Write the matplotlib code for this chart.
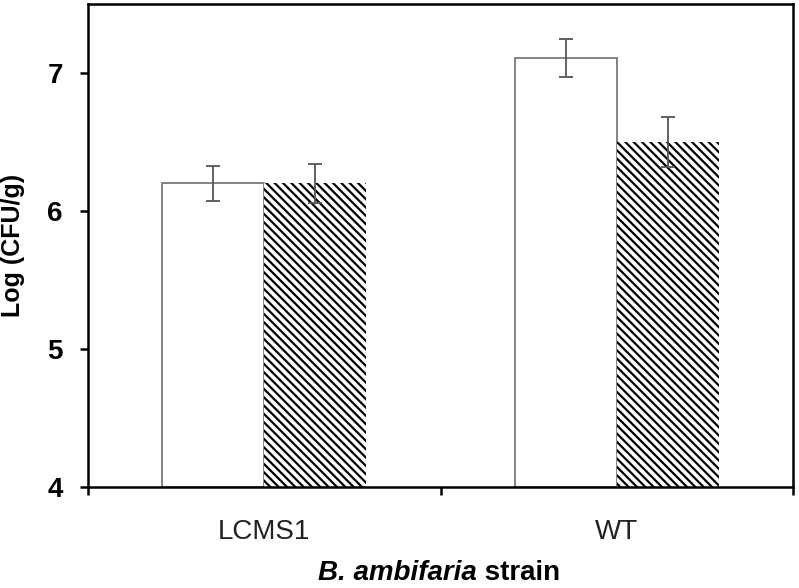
import matplotlib
matplotlib.use('Agg')
import matplotlib.pyplot as plt
import numpy as np

# data
strains = ['LCMS1', 'WT']
plain_vals = [6.20, 7.11]
plain_err = [0.125, 0.14]
hatch_vals = [6.20, 6.50]
hatch_err = [0.14, 0.18]
y_ticks = [4, 5, 6, 7]

plt.rcParams['font.family'] = ['Liberation Sans', 'DejaVu Sans']
plt.rcParams['hatch.linewidth'] = 1.6

fig = plt.figure(figsize=(7.99, 5.88), dpi=100)
ax = fig.add_axes([88 / 799, 1 - 487 / 588, 705 / 799, 483 / 588])

x = np.arange(len(strains))
w = 0.29
bottom = 4

ax.bar(x - w / 2, np.array(plain_vals) - bottom, w, bottom=bottom,
       color='white', edgecolor='#7a7a7a', linewidth=1.3, zorder=2)
ax.bar(x + w / 2, np.array(hatch_vals) - bottom, w, bottom=bottom,
       color='white', edgecolor='black', linewidth=0, hatch='\\\\\\\\', zorder=2)

ax.errorbar(x - w / 2, plain_vals, yerr=plain_err, fmt='none',
            ecolor='#555555', elinewidth=1.3, capsize=5, capthick=1.3, zorder=3)
ax.errorbar(x + w / 2, hatch_vals, yerr=hatch_err, fmt='none',
            ecolor='#555555', elinewidth=1.3, capsize=5, capthick=1.3, zorder=3)

ax.set_xlim(-0.5, 1.5)
ax.set_ylim(4, 7.5)

ax.set_yticks(y_ticks)
ax.set_yticklabels([str(t) for t in y_ticks], fontsize=20, fontweight='bold')
ax.tick_params(axis='y', direction='out', length=6, width=1.8, pad=12)

ax.set_xticks(x)
ax.set_xticklabels(strains, fontsize=20, color='#222222')
ax.set_xticks([-0.5, 0.5, 1.5], minor=True)
ax.tick_params(axis='x', which='major', length=0, pad=23)
ax.tick_params(axis='x', which='minor', direction='out', length=6, width=1.8)

for s in ax.spines.values():
    s.set_linewidth(1.8)

# y label placed by hand so it stays inside the figure
fig.text(13 / 799, 1 - 245 / 588, 'Log (CFU/g)', fontsize=18, fontweight='bold',
         rotation=90, ha='center', va='center')

# x label: italic species name + plain word
fig.text(0.597, 0.0136, 'B. ambifaria', fontsize=20, fontweight='bold',
         fontstyle='italic', ha='right', va='baseline')
fig.text(0.597, 0.0136, ' strain', fontsize=20, fontweight='bold',
         ha='left', va='baseline')

fig.savefig('out.png', dpi=100)
